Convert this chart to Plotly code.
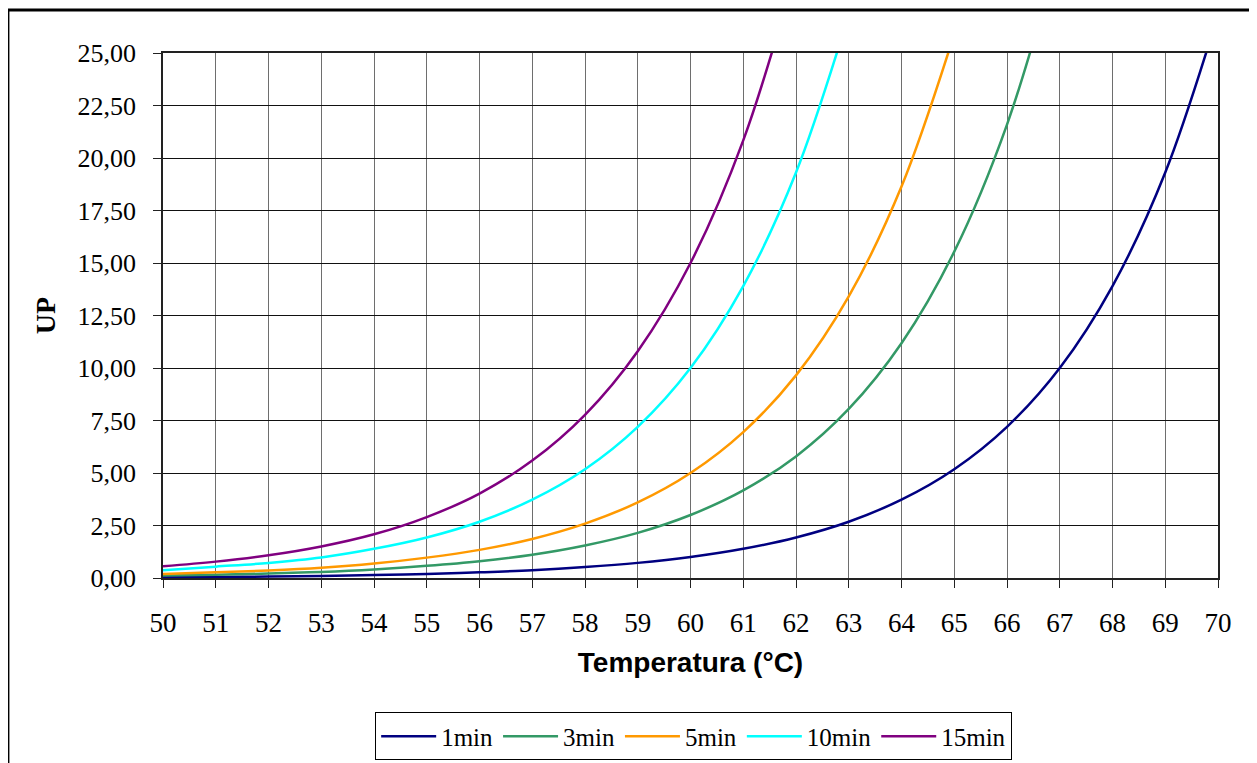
import plotly.graph_objects as go

# temperature (°C) and pasteurisation units
temp = [50, 51, 52, 53, 54, 55, 56, 57, 58, 59, 60, 61, 62, 63, 64, 65, 66, 67, 68, 69, 70]

up_1min = [0.04, 0.05, 0.07, 0.10, 0.14, 0.19, 0.27, 0.37, 0.52, 0.72, 1.00,
           1.39, 1.93, 2.68, 3.73, 5.18, 7.20, 10.00, 13.90, 19.31, 26.83]
up_3min = [0.12, 0.16, 0.21, 0.29, 0.41, 0.58, 0.80, 1.11, 1.55, 2.15, 3.00,
           4.17, 5.79, 8.05, 11.18, 15.54, 21.59, 30.00]
up_5min = [0.19, 0.27, 0.36, 0.49, 0.69, 0.97, 1.34, 1.86, 2.59, 3.60, 5.00,
           6.95, 9.65, 13.41, 18.64, 25.90]
up_10min = [0.37, 0.54, 0.72, 0.98, 1.39, 1.93, 2.68, 3.73, 5.18, 7.20, 10.00,
            13.90, 19.31, 26.83]
up_15min = [0.56, 0.78, 1.08, 1.50, 2.08, 2.90, 4.02, 5.59, 7.77, 10.80, 15.00,
            20.84, 28.96]

series = [
    ("1min", up_1min, "#000080"),
    ("3min", up_3min, "#339966"),
    ("5min", up_5min, "#FF9900"),
    ("10min", up_10min, "#00FFFF"),
    ("15min", up_15min, "#800080"),
]

serif = "Liberation Serif, Times New Roman, serif"

fig = go.Figure()
for name, vals, col in series:
    fig.add_trace(go.Scatter(x=temp[:len(vals)], y=vals, name=name, mode="lines",
                             line=dict(color=col, width=2.5, shape="spline")))

fig.update_xaxes(range=[50, 70], dtick=1, tick0=50, showgrid=True, gridcolor="#6e6e6e", gridwidth=1,
                 showline=True, linecolor="#222", linewidth=1.5, mirror=True,
                 ticks="outside", ticklen=8, tickcolor="#222", ticklabelstandoff=12,
                 tickfont=dict(family=serif, size=27, color="black"),
                 title=dict(text="<b>Temperatura (°C)</b>", standoff=15,
                            font=dict(family="Liberation Sans, Arial, sans-serif", size=28, color="black")),
                 zeroline=False)
fig.update_yaxes(range=[0, 25], dtick=2.5, tickformat=".2f", showgrid=True, gridcolor="#111", gridwidth=1,
                 showline=True, linecolor="#222", linewidth=1.5, mirror=True,
                 ticks="outside", ticklen=8, tickcolor="#222", ticklabelstandoff=12,
                 tickfont=dict(family=serif, size=26, color="black"),
                 title=dict(text="<b>UP</b>", standoff=14, font=dict(family=serif, size=28, color="black")),
                 zeroline=False)

# outer chart frame
fig.add_shape(type="rect", xref="paper", yref="paper", x0=-0.147, x1=1.033, y0=-0.45, y1=1.082,
              line=dict(color="black", width=3), layer="below")

fig.update_layout(width=1249, height=755, separators=",.",
                  margin=dict(l=155, r=39, t=45, b=185),
                  plot_bgcolor="white", paper_bgcolor="white",
                  showlegend=True,
                  legend=dict(orientation="h", x=0.503, xanchor="center",
                              yref="container", y=0.067, yanchor="top",
                              bordercolor="black", borderwidth=1, bgcolor="white",
                              font=dict(family=serif, size=25, color="black"),
                              itemwidth=55, tracegroupgap=0))

fig.write_html("out.html")
